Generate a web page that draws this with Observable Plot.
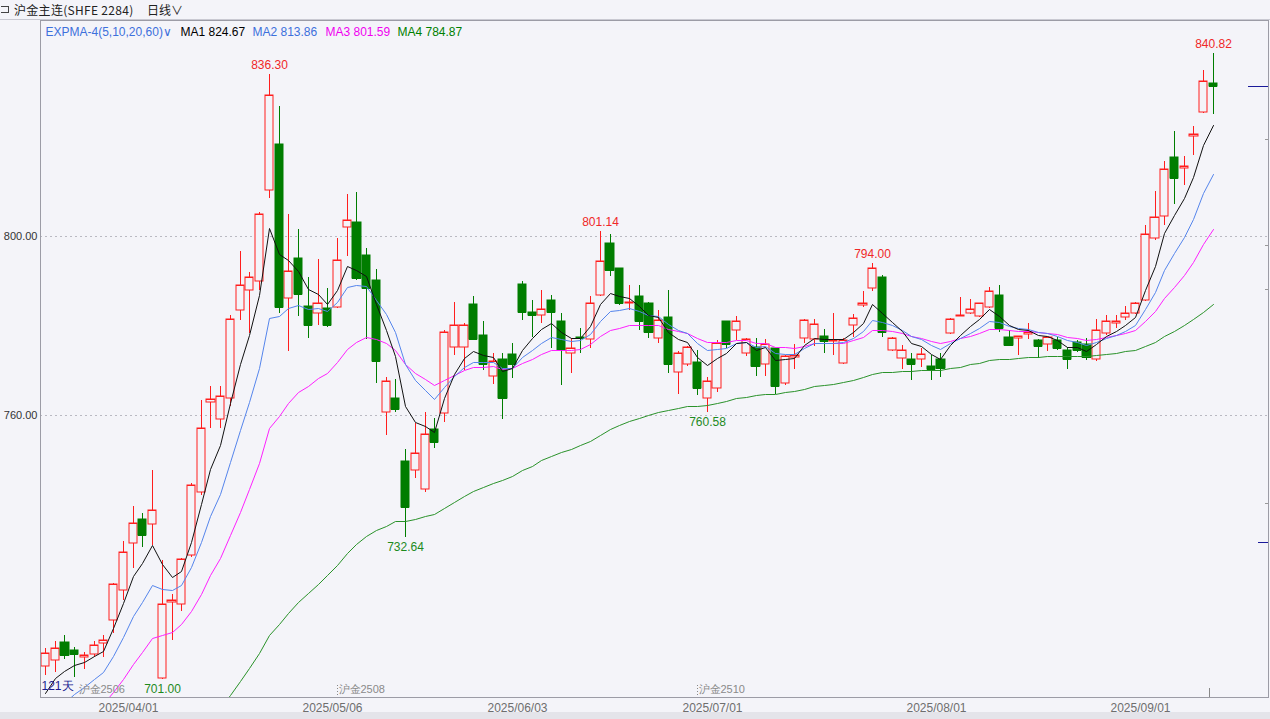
<!DOCTYPE html>
<html><head><meta charset="utf-8">
<script src="https://cdn.jsdelivr.net/npm/d3@7"></script>
<script src="https://cdn.jsdelivr.net/npm/@observablehq/plot@0.6"></script>
<style>
html,body{margin:0;padding:0;background:#f4f4f9;width:1270px;height:719px;overflow:hidden;font-family:"Liberation Sans",Arial,sans-serif}
#hdr{height:19px;border-bottom:1px solid #c9c9d2;font:12px "Noto Sans CJK SC",sans-serif;color:#222;position:relative}
#chart{height:692px}
#foot{height:7px;background:#e4e4ea}
svg{display:block}
</style></head><body>
<div id="hdr"><span style="position:absolute;left:1px;top:6px;width:7px;height:5px;border:1px solid #444;border-left:none"></span><span style="position:absolute;left:14px;top:1px;letter-spacing:0.3px">沪金主连(SHFE 2284)</span><span style="position:absolute;left:147px;top:1px">日线∨</span></div>
<div id="chart"></div>
<div id="foot"></div>
<script>
// ---- data ----
const open  = [703.9,705.3,709.3,707.4,705.9,706.5,709.1,714.2,721.0,731.3,736.8,735.6,701.3,718.1,717.8,728.7,742.8,762.8,759.0,763.7,
783.5,787.9,789.9,810.3,820.6,786.1,795.1,784.4,782.7,784.0,784.2,801.9,803.1,795.8,790.2,760.6,763.7,749.7,747.6,743.4,
756.8,760.4,775.1,775.1,784.9,777.9,768.8,772.5,773.6,789.2,783.1,782.3,785.7,781.0,773.8,777.5,776.9,786.8,798.4,792.8,
785.0,786.5,785.0,777.1,781.8,769.7,771.5,771.9,763.9,766.0,780.9,779.0,773.8,775.1,771.4,774.9,767.1,773.0,777.3,776.9,
777.7,776.6,771.7,780.0,784.5,788.3,790.9,774.5,772.7,772.5,772.5,771.0,772.5,778.3,782.2,782.7,782.1,784.2,786.8,777.4,
777.1,778.0,776.8,775.8,776.8,774.5,776.4,775.8,772.5,778.3,780.5,781.8,782.7,785.8,799.5,804.5,817.6,815.3,822.3,827.6,834.3];
const high  = [708.0,709.6,710.8,708.2,707.1,709.5,710.8,722.5,731.8,739.7,738.0,747.7,727.6,719.9,728.1,744.7,763.4,766.5,766.5,782.3,
796.7,791.9,805.4,836.3,829.1,804.9,801.5,790.8,794.8,788.3,799.6,809.3,809.9,797.4,792.6,768.6,768.0,752.3,758.1,760.7,
759.3,779.1,785.3,780.5,786.7,781.0,773.8,773.8,776.0,790.0,785.7,787.9,786.8,782.9,777.3,779.4,786.6,801.14,800.4,792.9,
789.1,789.1,785.2,783.5,787.9,774.2,775.5,774.5,768.6,776.8,781.0,782.1,777.1,777.1,776.9,775.0,773.4,775.9,781.4,781.4,
779.2,782.9,777.3,782.6,787.8,794.0,791.3,777.4,775.6,773.9,774.9,773.4,773.8,781.6,786.3,785.9,785.1,788.5,789.1,779.0,
777.7,780.5,776.9,777.4,777.5,775.3,776.8,777.1,781.4,782.3,782.3,784.4,785.2,802.5,810.1,816.8,823.5,817.9,824.6,837.1,840.82];
const low   = [701.9,702.5,705.4,701.4,703.3,706.0,706.0,711.2,718.7,725.7,730.6,731.0,701.0,709.7,716.1,728.3,742.1,757.0,757.0,762.0,
781.2,778.3,787.9,808.4,782.7,774.3,782.1,777.1,780.1,779.7,784.0,795.5,790.2,777.0,767.2,755.5,760.6,732.64,746.0,742.9,
752.7,758.4,773.3,770.1,776.8,770.1,766.9,759.0,768.3,781.3,777.5,780.5,774.9,766.7,769.3,773.8,774.9,786.5,791.1,784.5,
783.5,779.0,777.1,776.2,769.3,764.8,771.0,764.5,760.58,765.2,774.9,776.8,773.2,768.7,768.7,764.7,766.8,770.2,776.0,775.4,
773.8,773.4,771.5,777.5,784.2,787.6,777.4,774.2,770.2,767.8,770.7,767.8,768.4,778.0,782.1,782.6,781.8,784.0,778.6,775.5,
773.4,776.9,772.7,774.4,774.5,770.2,774.0,772.3,772.0,777.9,779.4,781.2,782.5,785.5,799.1,802.5,807.2,811.3,818.0,827.4,827.2];
const close = [706.9,708.0,706.4,706.7,706.3,708.5,709.8,722.3,729.3,735.9,733.2,738.7,717.8,718.7,727.8,744.3,757.0,763.5,764.2,781.4,
789.0,790.8,805.0,831.5,784.1,792.1,787.0,780.0,785.0,780.0,794.6,803.5,790.7,788.3,772.1,767.5,761.3,739.5,751.4,755.7,
754.0,778.6,780.0,780.0,777.0,771.4,772.1,763.9,771.5,783.0,782.3,783.6,783.1,774.5,774.9,777.1,785.1,794.4,792.3,785.0,
785.3,781.0,778.5,781.2,771.5,773.8,775.1,766.1,767.6,776.0,775.8,781.1,776.9,771.0,775.9,766.5,773.2,773.4,781.2,780.3,
776.5,776.8,776.8,781.6,785.0,792.8,778.6,777.1,774.5,771.3,773.6,770.2,770.6,781.4,782.4,783.6,785.0,787.8,779.4,775.7,
777.7,778.6,775.5,777.4,774.9,772.5,774.5,772.9,779.0,781.1,781.1,782.9,785.1,800.4,804.2,814.9,813.0,815.7,822.9,834.6,833.5];

// EXPMA lines
const ema5  = [697.8,701.2,702.9,704.2,704.9,706.1,707.3,712.3,718.0,724.0,727.0,730.9,726.6,723.9,725.2,731.6,740.1,747.9,753.3,762.7,
771.5,777.9,786.9,801.8,795.9,794.6,792.1,788.1,787.0,784.7,788.0,793.2,792.3,791.0,784.7,779.0,773.1,761.9,758.4,757.5,
756.3,763.8,769.2,772.8,774.2,773.3,772.9,769.9,770.4,774.6,777.2,779.3,780.6,778.6,777.3,777.3,779.9,784.7,787.2,786.5,
786.1,784.4,782.4,782.0,778.5,776.9,776.3,772.9,771.1,772.8,773.8,776.2,776.4,774.6,775.1,772.2,772.5,772.8,775.6,777.2,
777.0,776.9,776.9,778.5,780.6,784.7,782.7,780.8,778.7,776.2,775.4,773.6,772.6,775.6,777.8,779.8,781.5,783.6,782.2,780.0,
779.2,779.0,777.8,777.7,776.8,775.3,775.1,774.3,775.9,777.6,778.8,780.2,781.8,788.0,793.4,800.6,804.7,808.4,813.2,820.3,824.7];
const ema10 = [690.0,693.3,695.7,697.7,699.2,700.9,702.5,706.1,710.3,715.0,718.3,722.0,721.2,720.8,722.1,726.1,731.7,737.5,742.4,749.5,
756.6,762.9,770.5,781.6,782.1,783.9,784.5,783.6,783.9,783.2,785.3,788.6,789.0,788.9,785.8,782.5,778.6,771.5,767.9,765.6,
763.5,766.3,768.8,770.8,771.9,771.8,771.9,770.4,770.6,772.9,774.6,776.2,777.5,776.9,776.6,776.7,778.2,781.1,783.2,783.5,
783.8,783.3,782.4,782.2,780.3,779.1,778.4,776.1,774.6,774.8,775.0,776.1,776.3,775.3,775.4,773.8,773.7,773.6,775.0,776.0,
776.1,776.2,776.3,777.3,778.7,781.2,780.8,780.1,779.1,777.7,776.9,775.7,774.8,776.0,777.1,778.3,779.5,781.0,780.7,779.8,
779.4,779.3,778.6,778.4,777.7,776.8,776.4,775.7,776.3,777.2,777.9,778.8,780.0,783.7,787.4,792.4,796.2,799.7,803.9,809.5,813.9];
const ema20 = [685.5,687.6,689.4,691.1,692.5,694.0,695.5,698.1,701.1,704.4,707.1,710.1,710.9,711.6,713.2,716.1,720.0,724.2,728.0,733.1,
738.4,743.4,749.3,757.1,759.7,762.7,765.1,766.5,768.2,769.4,771.8,774.8,776.3,777.4,776.9,776.0,774.6,771.3,769.4,768.1,
766.8,767.9,769.0,770.1,770.7,770.8,770.9,770.2,770.4,771.6,772.6,773.6,774.5,774.5,774.6,774.8,775.8,777.6,779.0,779.5,
780.1,780.2,780.0,780.1,779.3,778.8,778.4,777.3,776.3,776.3,776.3,776.7,776.7,776.2,776.2,775.2,775.1,774.9,775.5,776.0,
776.0,776.1,776.2,776.7,777.5,778.9,778.9,778.7,778.3,777.7,777.3,776.6,776.0,776.5,777.1,777.7,778.4,779.3,779.3,779.0,
778.8,778.8,778.5,778.4,778.1,777.5,777.2,776.8,777.0,777.4,777.8,778.3,778.9,781.0,783.2,786.2,788.7,791.3,794.3,798.2,801.6];
const ema60 = [665.0,666.4,667.7,669.0,670.2,671.5,672.7,674.4,676.2,678.1,679.9,681.9,683.0,684.2,685.6,687.6,689.8,692.3,694.6,697.5,
700.5,703.4,706.8,710.9,713.3,715.8,718.2,720.2,722.3,724.2,726.5,729.1,731.1,733.0,734.2,735.3,736.2,736.3,736.8,737.4,
737.9,739.3,740.6,741.9,743.1,744.0,744.9,745.5,746.4,747.6,748.7,749.9,750.9,751.7,752.5,753.3,754.3,755.6,756.8,757.8,
758.7,759.4,760.0,760.7,761.1,761.5,761.9,762.1,762.2,762.7,763.1,763.7,764.1,764.4,764.8,764.8,765.1,765.4,765.9,766.4,
766.7,767.0,767.3,767.8,768.4,769.2,769.5,769.7,769.9,769.9,770.1,770.1,770.1,770.4,770.8,771.3,771.7,772.2,772.5,772.6,
772.7,772.9,773.0,773.2,773.2,773.2,773.2,773.2,773.4,773.7,773.9,774.2,774.6,775.4,776.4,777.6,778.8,780.0,781.4,783.1,784.9];

const tickIdx = [9, 30, 49, 69, 92, 113];
const tickLabels = ["2025/04/01","2025/05/06","2025/06/03","2025/07/01","2025/08/01","2025/09/01"];
const yTicks = [760, 800];
const highMarks = [23, 57, 85, 120];
const lowMarks = [12, 37, 68];
const legendNames = ["MA1","MA2","MA3","MA4"];
const legendValues = [824.67, 813.86, 801.59, 784.87];
const indicatorName = "EXPMA-4(5,10,20,60)";
const contractNames = ["沪金2506","沪金2508","沪金2510"];
const contractIdx = [3.3, 30, 67];
const dayCount = "121天";
const lastMarkers = [833.5, 731.6];
const rightTicks = [821.7, 798.0, 788.2, 740.3];

// ---- chart ----
const RED = "#ff1e1e", GREEN = "#007d00", BG = "#f4f4f9";
const rows = open.map((o, i) => ({i, o, h: high[i], l: low[i], c: close[i], up: close[i] >= o}));
const ups = rows.filter(d => d.up), downs = rows.filter(d => !d.up);
const W = 0.42;
const X0 = -0.514, X1 = 125.655, Y0 = 696.98, Y1 = 848.27;
const idx = d3.range(rows.length);
const legendColors = ["#000000", "#3d70dc", "#f000f0", "#008000"];
const legendDx = [140, 212, 285, 357];

const lineMark = (arr, color) => Plot.line(idx, {x: d => d, y: d => arr[d], stroke: color, strokeWidth: 1, clip: true});

const chart = Plot.plot({
  width: 1270, height: 692,
  marginLeft: 40, marginRight: 2, marginTop: 0, marginBottom: 15,
  style: {background: BG, fontFamily: "Liberation Sans, Arial, sans-serif", fontSize: "12px", overflow: "visible"},
  x: {domain: [X0, X1], axis: null, round: true},
  y: {domain: [Y0, Y1], axis: null, round: true},
  marks: [
    Plot.ruleY(yTicks, {stroke: "#b9b9c2", strokeDasharray: "2,3"}),
    Plot.text(yTicks, {x: X0, y: d => d, text: d => d.toFixed(2), textAnchor: "end", dx: -3, fill: "#333", fontSize: 11}),
    Plot.text(tickIdx.map((t, k) => ({t, s: tickLabels[k]})), {x: d => d.t - 0.5, y: Y0, text: "s", dy: 11, fill: "#6e6e6e", fontSize: 12}),
    // candles
    Plot.ruleX(ups, {x: "i", y1: "l", y2: "h", stroke: RED}),
    Plot.ruleX(downs, {x: "i", y1: "l", y2: "h", stroke: GREEN}),
    Plot.rect(ups, {x1: d => d.i - W, x2: d => d.i + W, y1: "o", y2: "c", fill: BG, stroke: RED}),
    Plot.rect(downs, {x1: d => d.i - W, x2: d => d.i + W, y1: "o", y2: "c", fill: GREEN, stroke: GREEN}),
    Plot.ruleY(ups, {y: "c", x1: d => d.i - W, x2: d => d.i + W, stroke: RED}),
    Plot.ruleY(downs, {y: "c", x1: d => d.i - W, x2: d => d.i + W, stroke: GREEN}),
    // EXPMA lines
    lineMark(ema60, "#2a922a"),
    lineMark(ema20, "#ff20ff"),
    lineMark(ema10, "#5585ec"),
    lineMark(ema5, "#111111"),
    // extreme labels
    Plot.text(highMarks, {x: d => d, y: d => high[d], text: d => high[d].toFixed(2), dy: -9, fill: "#f02828", fontSize: 12}),
    Plot.text(lowMarks, {x: d => d, y: d => low[d], text: d => low[d].toFixed(2), dy: 10, fill: "#1d8a1d", fontSize: 12}),
    // bottom annotations
    Plot.text(contractIdx.map((t, k) => ({t, s: contractNames[k]})), {x: "t", y: Y0, text: "s", dy: -8, dx: 1, textAnchor: "start", fill: "#8a8a8a", fontSize: 11}),
    Plot.ruleX(contractIdx.slice(1), {x: d => d - 0.05, y1: Y0 + 0.4, y2: Y0 + 3.2, stroke: "#888", strokeDasharray: "1,2"}),
    Plot.text([dayCount], {frameAnchor: "bottom-left", dx: 1, dy: -8, text: d => d, textAnchor: "start", fill: "#1b1b8f", fontSize: 12}),
    Plot.ruleX([119.6], {y1: Y0, y2: Y0 + 2, stroke: "#888"}),
    // right-edge markers
    Plot.ruleY(lastMarkers.slice(0, 1), {y: d => d, x1: 123.6, x2: X1, stroke: "#1a1a9a"}),
    Plot.ruleY(lastMarkers.slice(1), {y: d => d, x1: 124.6, x2: X1, stroke: "#1a1a9a"}),
    Plot.ruleY(rightTicks, {y: d => d, x1: 125.35, x2: X1, stroke: "#999"}),
    Plot.frame({stroke: "#9c9ca6"}),
    // legend
    Plot.text([indicatorName + "∨"], {frameAnchor: "top-left", dx: 5, dy: 7, text: d => d, textAnchor: "start", fill: "#3d70dc", fontSize: 12}),
    ...legendNames.map((n, k) => Plot.text([n + " " + legendValues[k].toFixed(2)], {frameAnchor: "top-left", dx: legendDx[k], dy: 7, text: d => d, textAnchor: "start", fill: legendColors[k], fontSize: 12}))
  ]
});
document.getElementById("chart").appendChild(chart);
</script>
</body></html>
